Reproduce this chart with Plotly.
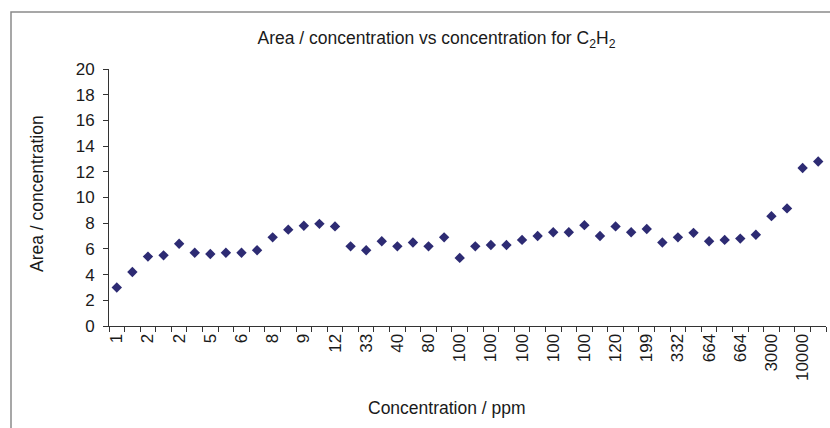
import plotly.graph_objects as go

# Category labels (concentration, ppm); every other label is shown on the axis
categories = ["1", "1", "2", "2", "2", "5", "5", "5", "6", "6",
              "8", "8", "9", "9", "12", "12", "33", "33", "40", "40",
              "80", "80", "100", "100", "100", "100", "100", "100", "100", "100",
              "100", "100", "120", "120", "199", "199", "332", "332", "664", "664",
              "664", "664", "3000", "3000", "10000", "10000"]

# Area / concentration values
ratio = [3.0, 4.2, 5.4, 5.5, 6.4, 5.7, 5.6, 5.7, 5.7, 5.9,
         6.9, 7.5, 7.8, 7.95, 7.75, 6.2, 5.9, 6.6, 6.2, 6.5,
         6.2, 6.9, 5.3, 6.2, 6.3, 6.3, 6.7, 7.0, 7.3, 7.3,
         7.85, 7.0, 7.75, 7.3, 7.55, 6.5, 6.9, 7.25, 6.6, 6.7,
         6.8, 7.1, 8.55, 9.15, 12.3, 12.8]

y_ticks = list(range(0, 21, 2))

idx = list(range(len(categories)))

W, H = 830, 428
L, R, T, B = 109, 4, 69, 102
pw, ph = W - L - R, H - T - B

FONT = "Liberation Sans, Arial, sans-serif"
TXT = "#1a1a1a"

fig = go.Figure()
fig.add_trace(go.Scatter(
    x=idx, y=ratio, mode="markers",
    marker=dict(symbol="diamond", size=8, color="#2D2B73",
                line=dict(width=0)),
    showlegend=False, cliponaxis=False,
))

def px_x(p):
    return (p - L) / pw

def px_y(p):
    return (H - B - p) / ph

fig.update_layout(
    width=W, height=H,
    margin=dict(l=L, r=R, t=T, b=B, pad=0),
    paper_bgcolor="white", plot_bgcolor="white",
    font=dict(family=FONT, size=17, color=TXT),
    title=dict(text="Area / concentration vs concentration for C<sub>2</sub>H<sub>2</sub>",
               x=436.5 / W, xanchor="center", xref="container",
               y=1 - 38 / H, yanchor="middle", yref="container",
               font=dict(family=FONT, size=17.5, color=TXT)),
    xaxis=dict(
        range=[-0.5, len(categories) - 0.5],
        tickmode="array", tickvals=idx[::2], ticktext=categories[::2],
        tickangle=-90, ticks="", showgrid=False, zeroline=False,
        showline=True, linecolor="#333333", linewidth=1,
        tickfont=dict(family=FONT, size=17, color=TXT),
        minor=dict(ticks="outside", ticklen=5, tickcolor="#333333", tickwidth=1,
                   tickmode="array", tickvals=[i - 0.5 for i in range(len(categories) + 1)],
                   showgrid=False),
        fixedrange=True,
    ),
    yaxis=dict(
        range=[0, 20], tickmode="array", tickvals=y_ticks,
        ticks="outside", ticklen=5, tickcolor="#333333", tickwidth=1,
        ticklabelstandoff=5,
        showgrid=False, zeroline=False,
        showline=True, linecolor="#333333", linewidth=1,
        tickfont=dict(family=FONT, size=17, color=TXT),
        fixedrange=True,
    ),
    annotations=[
        dict(text="Concentration / ppm", xref="paper", yref="paper",
             x=px_x(447), y=px_y(408), xanchor="center", yanchor="middle",
             showarrow=False, font=dict(family=FONT, size=17.5, color=TXT)),
        dict(text="Area / concentration", xref="paper", yref="paper",
             x=px_x(37), y=px_y(194), xanchor="center", yanchor="middle",
             textangle=-90, showarrow=False,
             font=dict(family=FONT, size=17.5, color=TXT)),
    ],
    shapes=[
        dict(type="rect", xref="paper", yref="paper",
             x0=px_x(11), x1=px_x(W + 20), y0=px_y(H + 20), y1=px_y(12),
             line=dict(color="#8a8a8a", width=1.5), fillcolor="rgba(0,0,0,0)",
             layer="below"),
    ],
)

fig.write_html("out.html")
